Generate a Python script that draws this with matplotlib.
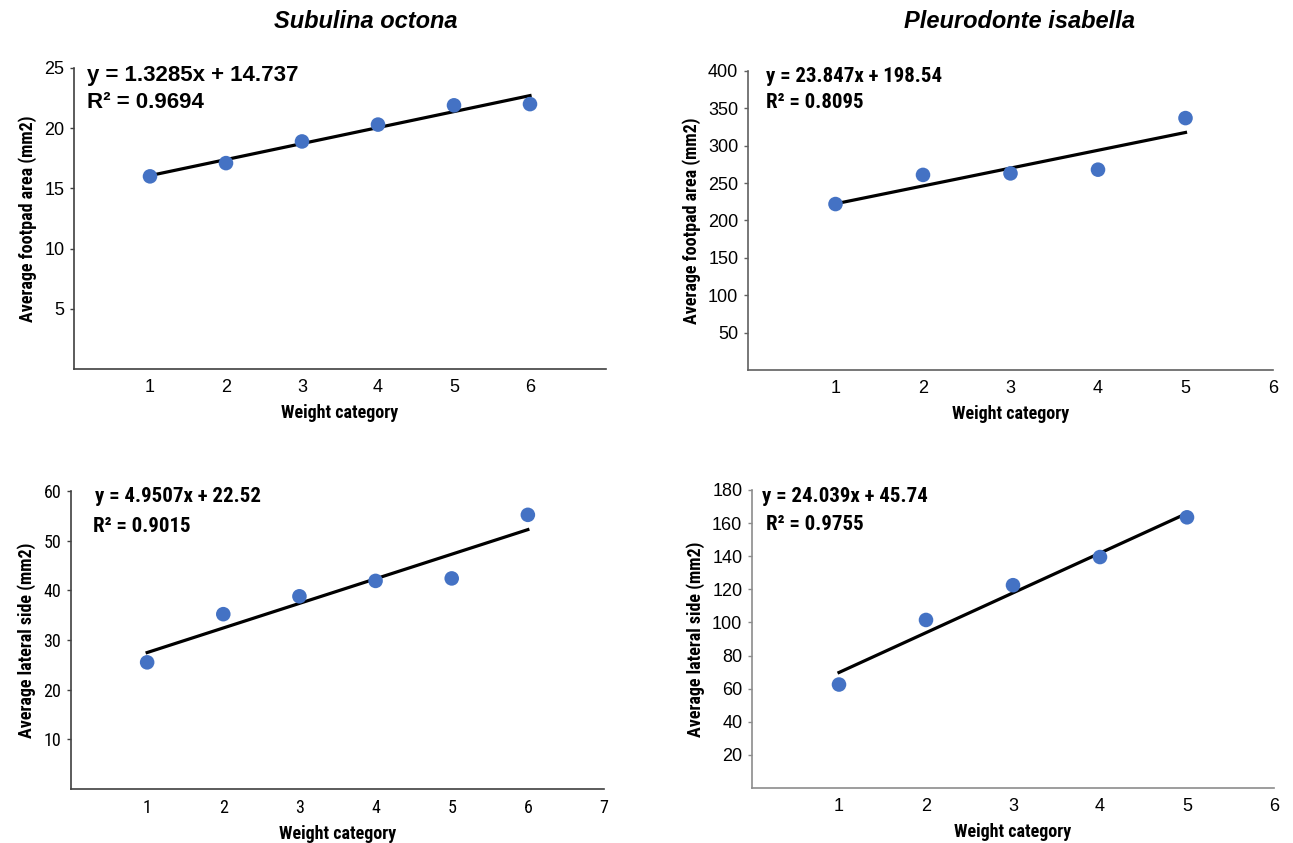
import numpy as np
import matplotlib
matplotlib.use("Agg")
import matplotlib.pyplot as plt

# =============================================================================
# DATA
# =============================================================================
so_x = [1, 2, 3, 4, 5, 6]
so_footpad = [16.0, 17.1, 18.9, 20.3, 21.9, 22.0]
so_lateral = [25.5, 35.2, 38.8, 41.9, 42.4, 55.2]

pi_x = [1, 2, 3, 4, 5]
pi_footpad = [222, 261, 263, 268, 337]
pi_lateral = [62.5, 101.5, 122.5, 139.5, 163.5]

# trendline coefficients as printed on the chart
so_footpad_fit = [1.3285, 14.737]
so_lateral_fit = [4.9507, 22.52]
pi_footpad_fit = [23.847, 198.54]
pi_lateral_fit = [24.039, 45.74]

so_footpad_r2 = "0.9694"
so_lateral_r2 = "0.9015"
pi_footpad_r2 = "0.8095"
pi_lateral_r2 = "0.9755"

titles = ["Subulina octona", "Pleurodonte isabella"]
xlabel = "Weight category"
ylabels = ["Average footpad area (mm2)", "Average lateral side (mm2)"]

# =============================================================================
# FIGURE
# =============================================================================
W, H = 1293, 843
fig = plt.figure(figsize=(W / 100, H / 100), dpi=100)

NARROW = ["Roboto Condensed", "Liberation Sans"]
REG = ["Liberation Sans", "DejaVu Sans"]
BLUE = "#4472C4"


def px_axes(left, right, top, bottom):
    return fig.add_axes([left / W, 1 - bottom / H, (right - left) / W, (bottom - top) / H])


def fig_text(x, y, s, **kw):
    fig.text(x / W, 1 - y / H, s, **kw)


def panel(ax, x, y, fit, xlim, xticks, ylim, yticks, ylab, spine_col, tick_font):
    ax.scatter(x, y, s=110, color=BLUE, zorder=3, edgecolors="none")
    xl = np.array([x[0], x[-1]], dtype=float)
    ax.plot(xl, fit[0] * xl + fit[1], color="black", lw=2.3, zorder=2)
    ax.set_xlim(*xlim)
    ax.set_ylim(*ylim)
    ax.set_xticks(xticks)
    ax.set_yticks(yticks)
    for s in ["top", "right"]:
        ax.spines[s].set_visible(False)
    for s in ["left", "bottom"]:
        ax.spines[s].set_color(spine_col)
        ax.spines[s].set_linewidth(1.2)
    ax.tick_params(axis="x", length=0, pad=7, labelsize=13)
    ax.tick_params(axis="y", length=3, width=1, color=spine_col, pad=4, labelsize=13)
    for lab in ax.get_xticklabels() + ax.get_yticklabels():
        lab.set_family(tick_font)
    ax.set_xlabel(xlabel, fontsize=13, fontweight="bold", family=NARROW, labelpad=6)
    ax.set_ylabel(ylab, fontsize=13, fontweight="bold", family=NARROW, labelpad=5)


# top-left: Subulina octona footpad
ax1 = px_axes(74, 606, 68, 369)
panel(ax1, so_x, so_footpad, so_footpad_fit, (0, 7), so_x, (0, 25),
      [5, 10, 15, 20, 25], ylabels[0], "#404040", REG)

# top-right: Pleurodonte isabella footpad
ax2 = px_axes(748, 1273, 71, 370)
panel(ax2, pi_x, pi_footpad, pi_footpad_fit, (0, 6), [1, 2, 3, 4, 5, 6], (0, 400),
      [50, 100, 150, 200, 250, 300, 350, 400], ylabels[0], "#606060", REG)

# bottom-left: Subulina octona lateral
ax3 = px_axes(71, 604, 491, 789)
panel(ax3, so_x, so_lateral, so_lateral_fit, (0, 7), [1, 2, 3, 4, 5, 6, 7], (0, 60),
      [10, 20, 30, 40, 50, 60], ylabels[1], "#404040", NARROW)

# bottom-right: Pleurodonte isabella lateral
ax4 = px_axes(752, 1274, 490, 788)
panel(ax4, pi_x, pi_lateral, pi_lateral_fit, (0, 6), [1, 2, 3, 4, 5, 6], (0, 180),
      [20, 40, 60, 80, 100, 120, 140, 160, 180], ylabels[1], "#8c8c8c", REG)

# equations
eq_kw = dict(fontweight="bold", va="center", ha="left")
fig_text(87, 75, f"y = {so_footpad_fit[0]}x + {so_footpad_fit[1]}", family=REG, fontsize=16, **eq_kw)
fig_text(87, 102, f"R² = {so_footpad_r2}", family=REG, fontsize=16, **eq_kw)
fig_text(766, 76, f"y = {pi_footpad_fit[0]}x + {pi_footpad_fit[1]}", family=NARROW, fontsize=15, **eq_kw)
fig_text(766, 102, f"R² = {pi_footpad_r2}", family=NARROW, fontsize=15, **eq_kw)
fig_text(95, 497, f"y = {so_lateral_fit[0]}x + {so_lateral_fit[1]}", family=NARROW, fontsize=15, **eq_kw)
fig_text(93, 527, f"R² = {so_lateral_r2}", family=NARROW, fontsize=15, **eq_kw)
fig_text(762, 497, f"y = {pi_lateral_fit[0]}x + {pi_lateral_fit[1]}", family=NARROW, fontsize=15, **eq_kw)
fig_text(766, 525, f"R² = {pi_lateral_r2}", family=NARROW, fontsize=15, **eq_kw)

# species titles
fig_text(366, 22, titles[0], fontsize=17, fontweight="bold", style="italic",
         ha="center", va="center", family=REG)
fig_text(1020, 22, titles[1], fontsize=17, fontweight="bold", style="italic",
         ha="center", va="center", family=REG)

fig.savefig("out.png", dpi=100, facecolor="white")
